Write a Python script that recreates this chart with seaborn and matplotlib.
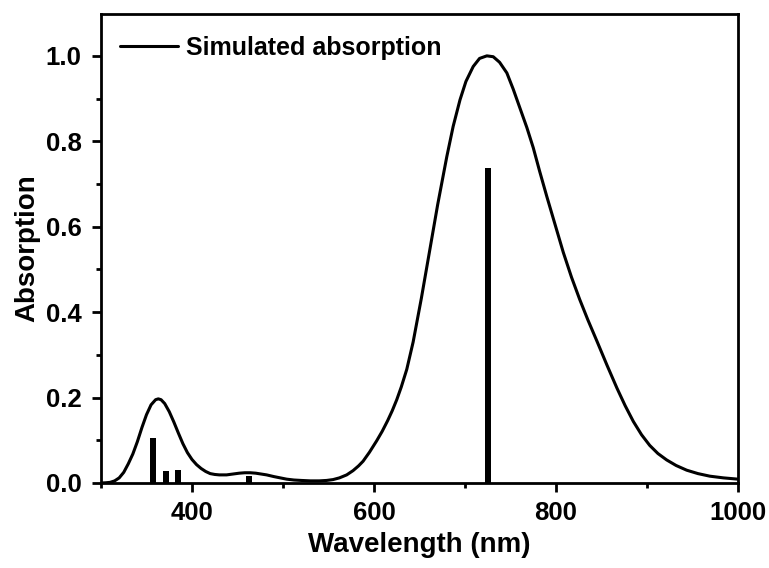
import numpy as np
import pandas as pd
import seaborn as sns
import matplotlib
matplotlib.use("Agg")
import matplotlib.pyplot as plt
from matplotlib.ticker import MultipleLocator, FormatStrFormatter

# Simulated absorption envelope
wavelength = [300, 305, 310, 315, 320, 325, 330, 335, 340, 345, 350, 355, 360,
              363, 366, 370, 375, 380, 385, 390, 395, 400, 405, 410, 415, 420,
              425, 430, 438, 445, 452, 458, 464, 470, 476, 482, 490, 497, 504,
              512, 520, 530, 540, 548, 555, 562, 570, 577, 583, 588, 595, 603,
              609, 615, 620, 625, 630, 636, 643, 652, 661.5, 670, 680, 687,
              694.5, 701, 709, 716, 724, 731, 738, 746, 753, 760, 768, 775, 782,
              790, 799, 808, 817, 826, 835, 845, 856, 867, 876, 885, 894, 903,
              912, 921.6, 932, 943.6, 956, 969, 984, 1000]
absorption = [0.0, 0.0005, 0.0015, 0.005, 0.012, 0.025, 0.045, 0.068, 0.097,
              0.130, 0.160, 0.183, 0.195, 0.197, 0.195, 0.186, 0.167, 0.143,
              0.117, 0.092, 0.071, 0.055, 0.043, 0.034, 0.027, 0.022, 0.020,
              0.019, 0.019, 0.021, 0.023, 0.024, 0.024, 0.023, 0.021, 0.019,
              0.015, 0.012, 0.009, 0.007, 0.006, 0.005, 0.005, 0.006, 0.008,
              0.012, 0.019, 0.029, 0.040, 0.051, 0.072, 0.099, 0.121, 0.146,
              0.169, 0.195, 0.225, 0.266, 0.330, 0.432, 0.548, 0.652, 0.764,
              0.835, 0.897, 0.940, 0.975, 0.994, 1.0, 0.998, 0.985, 0.960,
              0.922, 0.880, 0.832, 0.785, 0.730, 0.670, 0.605, 0.540, 0.482,
              0.430, 0.382, 0.332, 0.276, 0.222, 0.181, 0.144, 0.113, 0.088,
              0.069, 0.054, 0.041, 0.030, 0.022, 0.016, 0.012, 0.009]

# Oscillator strengths (sticks)
stick_wl = [357.5, 371.8, 384.4, 463, 725]
stick_f = [0.105, 0.027, 0.030, 0.016, 0.738]

sns.set_theme(style="ticks")
plt.rcParams['font.family'] = ['Liberation Sans', 'DejaVu Sans']
plt.rcParams['font.weight'] = 'bold'
for k in ['text.color', 'axes.labelcolor', 'xtick.color', 'ytick.color', 'axes.edgecolor']:
    plt.rcParams[k] = 'black'

fig = plt.figure(figsize=(7.69, 5.68), dpi=100)
ax = fig.add_axes([101/769, 1-483/568, 637/769, 469/568])

df = pd.DataFrame({"Wavelength": wavelength, "Absorption": absorption})
sns.lineplot(data=df, x="Wavelength", y="Absorption", ax=ax, color="black",
             linewidth=2.2, label="Simulated absorption",
             solid_joinstyle='round', solid_capstyle='round')
ax.bar(stick_wl, stick_f, width=6.5, color="black", linewidth=0)

ax.set_xlim(300, 1000)
ax.set_ylim(0, 1.098)
ax.xaxis.set_major_locator(MultipleLocator(200))
ax.xaxis.set_minor_locator(MultipleLocator(100))
ax.yaxis.set_major_locator(MultipleLocator(0.2))
ax.yaxis.set_minor_locator(MultipleLocator(0.1))
ax.yaxis.set_major_formatter(FormatStrFormatter('%.1f'))
ax.set_xticks([400, 600, 800, 1000])

for s in ax.spines.values():
    s.set_linewidth(2.0)
    s.set_color("black")
    s.set_visible(True)
ax.tick_params(axis='x', which='major', direction='out', length=6.5, width=2.0,
               labelsize=18.5, pad=6.5)
ax.tick_params(axis='y', which='major', direction='out', length=6.5, width=2.0,
               labelsize=18.5, pad=7.5)
ax.tick_params(which='minor', direction='out', length=3.5, width=2.0)
ax.tick_params(top=False, right=False, which='both')
for lab in ax.get_xticklabels() + ax.get_yticklabels():
    lab.set_fontweight('bold')

ax.set_xlabel("Wavelength (nm)", fontsize=20, fontweight='bold', labelpad=5)
ax.set_ylabel("Absorption", fontsize=20, fontweight='bold', labelpad=4)

leg = ax.legend(loc='upper left', bbox_to_anchor=(0.03, 0.953), frameon=False,
                fontsize=18, handlelength=2.3, handletextpad=0.35,
                borderaxespad=0, borderpad=0)
for t in leg.get_texts():
    t.set_fontweight('bold')
for h in leg.get_lines():
    h.set_linewidth(2.2)

fig.savefig("out.png", dpi=100)
